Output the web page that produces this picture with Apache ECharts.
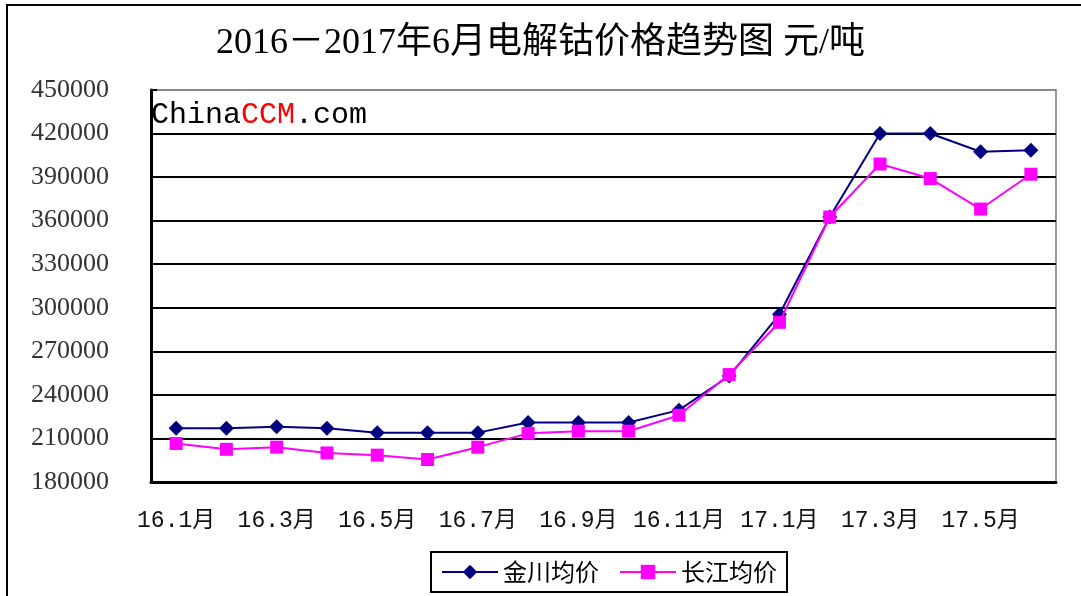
<!DOCTYPE html>
<html>
<head>
<meta charset="utf-8">
<script src="https://cdn.jsdelivr.net/npm/echarts@6/dist/echarts.min.js"></script>
<style>
html,body{margin:0;padding:0;background:#fff;}
#c{width:1081px;height:596px;}
</style>
</head>
<body>
<div id="c"></div>
<script>
var categories = ['16.1月','16.2月','16.3月','16.4月','16.5月','16.6月','16.7月','16.8月','16.9月','16.10月','16.11月','16.12月','17.1月','17.2月','17.3月','17.4月','17.5月','17.6月'];
var jinchuan = [217000,217000,218000,217000,214000,214000,214000,221000,221000,221000,229500,253000,295500,362500,420000,420000,407500,408500];
var changjiang = [206500,202500,204000,200000,198500,195500,204000,213500,215000,215000,226000,254000,290000,362500,399000,389000,368000,392000];
var yTicks = [180000,210000,240000,270000,300000,330000,360000,390000,420000,450000];
var titleText = '2016－2017年6月电解钴价格趋势图 元/吨';

var chart = echarts.init(document.getElementById('c'), null, {renderer:'canvas'});
var gridColors = yTicks.map(function(v,i){ return i === yTicks.length-1 ? '#888888' : '#000000'; });
chart.setOption({
  animation:false,
  backgroundColor:'#ffffff',
  title:{
    text:titleText, left:'center', top:21,
    textStyle:{fontFamily:'"Liberation Serif","Noto Sans CJK SC"', fontSize:36, fontWeight:'normal', color:'#000'}
  },
  graphic:[
    {type:'rect', shape:{x:7,y:5,width:1200,height:700}, style:{fill:null, stroke:'#000', lineWidth:2}, silent:true, z:-1},
    {type:'text', left:151, top:100, style:{rich:{a:{fill:'#000',fontFamily:'"Liberation Mono"',fontSize:30},b:{fill:'#ff0000',fontFamily:'"Liberation Mono"',fontSize:30}}, text:'{a|China}{b|CCM}{a|.com}'}, z:10}
  ],
  legend:{
    bottom:4, left:431,
    itemWidth:56, itemHeight:18, itemGap:20,
    padding:[8,10,8,10],
    borderColor:'#000', borderWidth:2,
    textStyle:{fontFamily:'"Noto Sans CJK SC"', fontSize:24, color:'#000'},
    data:['金川均价','长江均价']
  },
  grid:{left:151, right:25, top:90, bottom:114, show:true, borderColor:'#999', borderWidth:2, containLabel:false},
  xAxis:{
    type:'category', data:categories, boundaryGap:true,
    axisLine:{lineStyle:{color:'#000', width:3}},
    axisTick:{inside:true, length:6, interval:0, lineStyle:{color:'#000', width:2}},
    axisLabel:{interval:1, margin:27, fontFamily:'"Liberation Mono","Noto Sans CJK SC"', fontSize:23, color:'#111'}
  },
  yAxis:{
    type:'value', min:180000, max:450000, interval:30000,
    axisLine:{show:true, lineStyle:{color:'#000', width:3}},
    axisTick:{show:true, inside:true, length:6, lineStyle:{color:'#000', width:2}},
    axisLabel:{margin:42, fontFamily:'"Liberation Serif"', fontSize:26, color:'#333', formatter:function(v){return String(v);}},
    splitLine:{show:true, lineStyle:{color:gridColors, width:2}}
  },
  series:[
    {name:'金川均价', type:'line', data:jinchuan, symbol:'diamond', symbolSize:15,
     lineStyle:{color:'#000080', width:2}, itemStyle:{color:'#000080'}, z:3},
    {name:'长江均价', type:'line', data:changjiang, symbol:'rect', symbolSize:13,
     lineStyle:{color:'#ff00ff', width:2}, itemStyle:{color:'#ff00ff'}, z:4}
  ]
});
</script>
</body>
</html>
